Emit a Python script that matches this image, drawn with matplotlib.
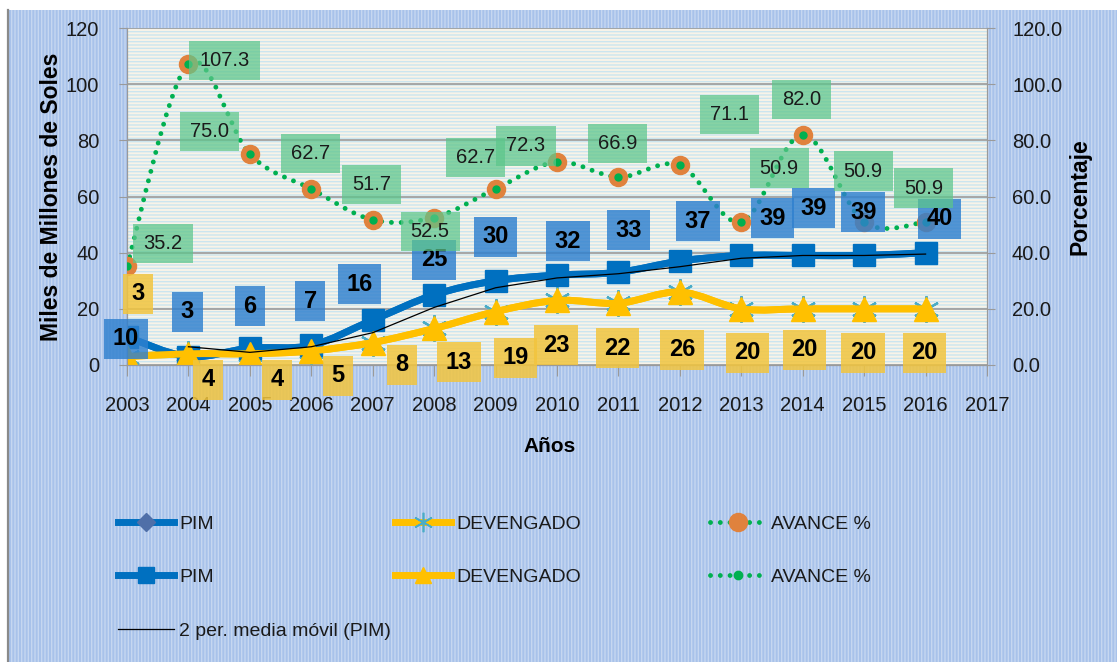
import numpy as np
import matplotlib
matplotlib.use('Agg')
import matplotlib.pyplot as plt
from matplotlib.path import Path
from matplotlib.patches import PathPatch, Rectangle
from matplotlib.lines import Line2D

plt.rcParams['font.family'] = ['Liberation Sans', 'DejaVu Sans']
plt.rcParams['hatch.linewidth'] = 1.0

# --- Data ---
years = [2003, 2004, 2005, 2006, 2007, 2008, 2009, 2010, 2011, 2012, 2013, 2014, 2015, 2016]
pim = [10, 3, 6, 7, 16, 25, 30, 32, 33, 37, 39, 39, 39, 40]
devengado = [3, 4, 4, 5, 8, 13, 19, 23, 22, 26, 20, 20, 20, 20]
avance = [35.2, 107.3, 75.0, 62.7, 51.7, 52.5, 62.7, 72.3, 66.9, 71.1, 50.9, 82.0, 50.9, 50.9]
ma_years = years[1:]
pim_ma = [6.5, 4.5, 6.5, 11.5, 20.5, 27.5, 31.0, 32.5, 35.0, 38.0, 39.0, 39.0, 39.5]

# label offsets (pixels) as placed in the original
pim_off = [(-1, -2), (-1, 45), (0, 42), (-1, 44), (-13, 36), (0, 35), (0, 44),
           (11, 34), (10, 42), (18, 40), (31, 37), (11, 47), (-1, 43), (14, 34)]
dev_off = [(11, 63), (20, -26), (27, -26), (27, -25), (29, -22), (25, -34), (20, -46),
           (-1, -45), (-1, -45), (2, -58), (6, -44), (2, -41), (-1, -44), (-1, -44)]
ava_off = [(36, 23), (36, 3), (-40, 23), (-1, 35), (-1, 35), (-4, -14), (-20, 31),
           (-31, 16), (-1, 34), (50, 51), (38, 54), (-1, 35), (-1, 51), (-2, 34)]

BLUE = '#0070c0'
YELLOW = '#ffc000'
GREEN = '#00b050'
ORANGE = '#e0823d'
TEAL = '#4bacc6'
GRAY = '#9a9a9a'
TXT = '#1a1a1a'


def smooth_path(xs, ys):
    pts = np.column_stack([xs, ys]).astype(float)
    n = len(pts)
    verts = [pts[0]]
    codes = [Path.MOVETO]
    for i in range(n - 1):
        p0 = pts[max(i - 1, 0)]
        p1 = pts[i]
        p2 = pts[i + 1]
        p3 = pts[min(i + 2, n - 1)]
        verts += [p1 + (p2 - p0) / 6, p2 - (p3 - p1) / 6, p2]
        codes += [Path.CURVE4] * 3
    return Path(verts, codes)


W, H = 1117, 662
fig = plt.figure(figsize=(W / 100, H / 100), dpi=100)
fig.patch.set_facecolor('white')

# outer chart area background
fig.patches.append(Rectangle((8 / W, 0), 1 - 8 / W, 1 - 10 / H, transform=fig.transFigure,
                             facecolor='#a8c2ea', edgecolor='none', zorder=-5))
fig.patches.append(Rectangle((8 / W, 0), 1 - 8 / W, 1 - 10 / H, transform=fig.transFigure,
                             fill=False, hatch='|||||', edgecolor='#c6d7f0', lw=0, zorder=-4))
fig.lines.append(Line2D([8 / W, 8 / W], [0, 1 - 10 / H], transform=fig.transFigure,
                        color='#8a8a8a', lw=1.6))

ax = fig.add_axes([127 / W, 1 - 365 / H, 860 / W, 337 / H])
ax.set_facecolor('#f8f3e8')
ax.add_patch(Rectangle((0, 0), 1, 1, transform=ax.transAxes, fill=False,
                       hatch='-----', edgecolor='#cbe5ef', lw=0, zorder=0))
ax2 = ax.twinx()

# --- legacy series (drawn underneath) ---
ax.add_patch(PathPatch(smooth_path(years, pim), fc='none', ec=BLUE, lw=5, zorder=2))
ax.plot(years, pim, ls='none', marker='D', ms=9, color='#4f6fa8', zorder=2)
ax.add_patch(PathPatch(smooth_path(years, devengado), fc='none', ec=YELLOW, lw=5, zorder=2))
ax.plot(years, devengado, ls='none', marker=(6, 2, 0), ms=19, mew=1.6, mec=TEAL, zorder=2)

# --- main series ---
ax.add_patch(PathPatch(smooth_path(years, pim), fc='none', ec=BLUE, lw=5, zorder=3))
ax.plot(years, pim, ls='none', marker='s', ms=16, color=BLUE, zorder=3)
ax.add_patch(PathPatch(smooth_path(years, devengado), fc='none', ec=YELLOW, lw=5, zorder=3))
ax.plot(years, devengado, ls='none', marker='^', ms=17, color=YELLOW, zorder=3)
ax.plot(ma_years, pim_ma, color='black', lw=0.9, zorder=4)

# AVANCE % on the secondary axis
ax2.add_patch(PathPatch(smooth_path(years, avance), fc='none', ec=GREEN, lw=3.5,
                        linestyle=(0, (0.01, 2.0)), capstyle='round', zorder=2))
ax2.plot(years, avance, ls='none', marker='o', ms=13, color=ORANGE, zorder=3)
ax2.plot(years, avance, ls='none', marker='o', ms=5, color=GREEN, zorder=4)

# --- data labels ---
for x, v, (dx, dy) in zip(years, pim, pim_off):
    ax2.annotate(f'{v}', xy=(x, v), xycoords=ax.transData, xytext=(dx, dy),
                 textcoords='offset pixels', ha='center', va='center',
                 fontsize=17, fontweight='bold', color='black', zorder=10,
                 bbox=dict(boxstyle='square,pad=0.36', fc='#2f80cf', ec='none', alpha=0.82))
for x, v, (dx, dy) in zip(years, devengado, dev_off):
    ax2.annotate(f'{v}', xy=(x, v), xycoords=ax.transData, xytext=(dx, dy),
                 textcoords='offset pixels', ha='center', va='center',
                 fontsize=17, fontweight='bold', color='black', zorder=10,
                 bbox=dict(boxstyle='square,pad=0.36', fc='#f2c53e', ec='none', alpha=0.85))
for x, v, (dx, dy) in zip(years, avance, ava_off):
    ax2.annotate(f'{v:.1f}', xy=(x, v), xytext=(dx, dy),
                 textcoords='offset pixels', ha='center', va='center',
                 fontsize=14.5, color=TXT, zorder=10,
                 bbox=dict(boxstyle='square,pad=0.5', fc='#5cc68a', ec='none', alpha=0.72))

# --- axes formatting ---
ax.set_xlim(2003, 2017)
ax.set_ylim(0, 120)
ax2.set_ylim(0, 120)
ax.set_xticks(range(2003, 2018))
ax.set_yticks(range(0, 121, 20))
ax2.set_yticks(range(0, 121, 20))
ax2.set_yticklabels([f'{t:.1f}' for t in range(0, 121, 20)])
ax.grid(axis='y', color=GRAY, lw=1.2)
ax.set_axisbelow(True)
for a in (ax, ax2):
    for s in a.spines.values():
        s.set_color(GRAY)
    a.spines['top'].set_visible(False)
ax.tick_params(axis='x', length=8, color=GRAY, pad=14, labelsize=14.5, labelcolor=TXT)
ax.tick_params(axis='y', length=6, color=GRAY, pad=14, labelsize=14.5, labelcolor=TXT)
ax2.tick_params(axis='y', length=6, color=GRAY, pad=12, labelsize=14.5, labelcolor=TXT)

fig.text(52 / W, 1 - 197 / H, 'Miles de Millones de Soles', rotation=90, ha='center',
         va='center', fontsize=16.5, fontweight='bold')
fig.text(1080 / W, 1 - 197 / H, 'Porcentaje', rotation=90, ha='center', va='center',
         fontsize=16.5, fontweight='bold')
fig.text(550 / W, 1 - 447 / H, 'Años', ha='center', va='center',
         fontsize=15, fontweight='bold')

# --- legend (three column blocks like the original) ---
h_pim1 = Line2D([], [], color=BLUE, lw=5, marker='D', ms=9, mfc='#4f6fa8', mec='#4f6fa8')
h_pim2 = Line2D([], [], color=BLUE, lw=5, marker='s', ms=12)
h_ma = Line2D([], [], color='black', lw=0.9)
h_dev1 = Line2D([], [], color=YELLOW, lw=5, marker=(6, 2, 0), ms=14, mec=TEAL, mew=1.2)
h_dev2 = Line2D([], [], color=YELLOW, lw=5, marker='^', ms=12)
h_ava1 = Line2D([], [], color=GREEN, lw=3.5, ls=(0, (0.01, 2.0)), dash_capstyle='round',
                marker='o', ms=13, mfc=ORANGE, mec=ORANGE)
h_ava2 = Line2D([], [], color=GREEN, lw=3.5, ls=(0, (0.01, 2.0)), dash_capstyle='round',
                marker='o', ms=6, mfc=GREEN, mec=GREEN)

leg_kw = dict(loc='upper left', frameon=False, fontsize=14, borderpad=0, borderaxespad=0,
              handlelength=2.9, handletextpad=0.25, labelspacing=1.85, labelcolor=TXT)
blocks = [([h_pim1, h_pim2, h_ma], ['PIM', 'PIM', '2 per. media móvil (PIM)'], 118),
          ([h_dev1, h_dev2], ['DEVENGADO', 'DEVENGADO'], 395),
          ([h_ava1, h_ava2], ['AVANCE %', 'AVANCE %'], 710)]
for handles, labels, xpx in blocks:
    fig.legend(handles, labels, bbox_to_anchor=(xpx / W, 1 - 515 / H), **leg_kw)

fig.savefig('out.png', dpi=100, facecolor=fig.get_facecolor())
